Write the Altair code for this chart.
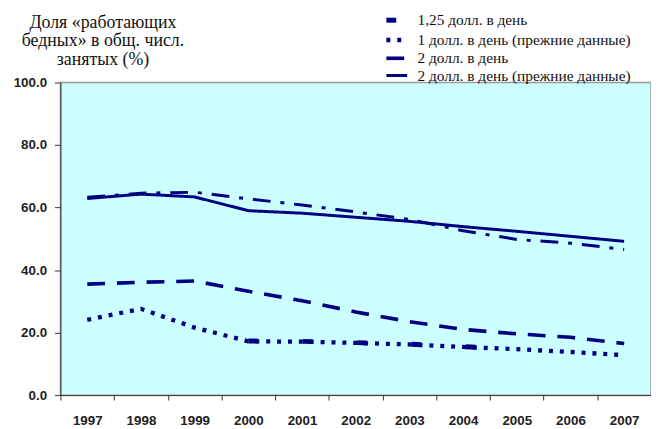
import altair as alt
import pandas as pd

years = [str(y) for y in range(1997, 2008)]
s_2_old = [62.9, 64.3, 63.4, 59.0, 58.2, 56.9, 55.6, 53.9, 52.4, 50.8, 49.2]
s_dashdot = [63.3, 64.6, 64.9, 62.8, 60.8, 58.6, 56.2, 52.6, 49.8, 48.6, 46.6]
s_2 = [35.5, 36.1, 36.5, 33.2, 30.2, 26.6, 23.5, 21.0, 19.6, 18.5, 16.5]
s_1_old = [24.1, 27.6, 21.6, 17.2, 17.1, 16.7, 16.2, 15.4, 14.7, 13.8, 12.8]
s_125 = [None, None, None, 17.3, 17.2, 16.8, 16.3, 15.5, 14.8, None, None]

names = ["1,25 долл. в день", "1 долл. в день (прежние данные)",
         "2 долл. в день", "2 долл. в день (прежние данные)"]
title_lines = ["Доля «работающих", "бедных» в общ. числ.", "занятых (%)"]

rows = []
for name, vals in zip(names, [s_125, s_1_old, s_2, s_2_old]):
    for y, v in zip(years, vals):
        if v is not None:
            rows.append({"year": y, "value": v, "series": name})
df = pd.DataFrame(rows)
df2 = pd.DataFrame({"year": years, "value": s_dashdot})

navy = "#000080"
serif = "Liberation Serif"
sans = "Liberation Sans"
x = alt.X("year:O", title=None, scale=alt.Scale(paddingInner=0, paddingOuter=0),
          axis=alt.Axis(labelAngle=0, tickBand="extent", labelFont=sans,
                        labelFontWeight="bold", labelFontSize=13.5, labelColor="#222222",
                        domainColor="#333333", tickColor="#333333", tickSize=5,
                        labelPadding=14, grid=False))
y = alt.Y("value:Q", title=None, scale=alt.Scale(domain=[0, 100]),
          axis=alt.Axis(values=[0, 20, 40, 60, 80, 100], format=".1f", grid=False,
                        labelFont=sans, labelFontWeight="bold",
                        labelFontSize=13.5, labelColor="#222222", domainColor="#333333",
                        tickColor="#333333", tickSize=6, labelPadding=8))

leg = alt.Legend(title=None, orient="none", legendX=330, legendY=-73,
                 labelFont=serif, labelFontSize=15.5, labelColor="#111111",
                 labelLimit=400, symbolType="M-1.4,0H1.4", symbolSize=225,
                 symbolStrokeColor=navy, rowPadding=0, labelOffset=11, padding=0)

main = alt.Chart(df).mark_line(color=navy).encode(
    x=x, y=y,
    strokeDash=alt.StrokeDash("series:N", sort=names,
        scale=alt.Scale(domain=names, range=[[10, 45], [4, 7], [18, 12], [1, 0]]),
        legend=leg),
    strokeWidth=alt.StrokeWidth("series:N", sort=names,
        scale=alt.Scale(domain=names, range=[5, 3, 3, 2.5]), legend=leg),
    detail="series:N",
)

dd = alt.Chart(df2).mark_line(color=navy, strokeWidth=3, strokeDash=[18, 10, 4, 10]).encode(
    x=x, y=y)

title = alt.Chart(pd.DataFrame({"t": [0]})).mark_text(
    font=serif, fontSize=18, align="center", baseline="top", lineHeight=18.5,
    color="#111111"
).encode(x=alt.value(43), y=alt.value(-69), text=alt.value(title_lines))

chart = alt.layer(main, dd, title).properties(
    width=597, height=316,
    autosize=alt.AutoSizeParams(type="none"),
    padding={"left": 53, "top": 73, "right": 0, "bottom": 40},
).configure_view(
    fill="#CCFFFF", stroke="#999999", strokeWidth=1.5
)

chart.save("out.html", embed_options={"renderer": "svg", "actions": False})
